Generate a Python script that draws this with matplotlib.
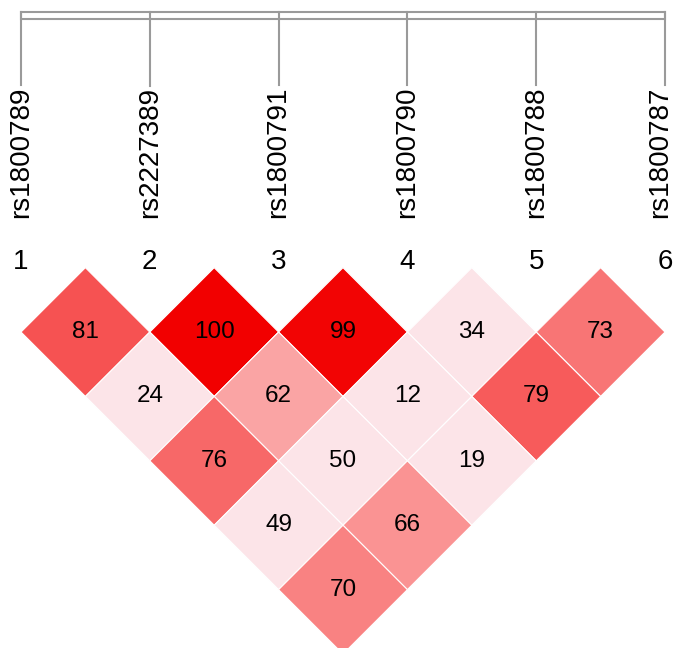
import matplotlib
matplotlib.use("Agg")
import matplotlib.pyplot as plt
from matplotlib.patches import Polygon, Rectangle

# =========================
# data
# =========================
snp_names = ["rs1800789", "rs2227389", "rs1800791", "rs1800790", "rs1800788", "rs1800787"]
snp_numbers = ["1", "2", "3", "4", "5", "6"]

# D' (x100) by marker distance: neighbours, 2 apart, 3 apart, ...
dprime_dist1 = [81, 100, 99, 34, 73]
dprime_dist2 = [24, 62, 12, 79]
dprime_dist3 = [76, 50, 19]
dprime_dist4 = [49, 66]
dprime_dist5 = [70]

rows = [dprime_dist1, dprime_dist2, dprime_dist3, dprime_dist4, dprime_dist5]

plt.rcParams["font.family"] = ["Liberation Sans", "DejaVu Sans"]

LIGHT = (0.988, 0.894, 0.910)
GRAY = "#9a9a9a"
X_MIN, X_MAX = -0.163, 5.070


def cell_color(v):
    # weak links drawn light pink, strong ones shaded toward red
    if v < 60:
        return LIGHT
    frac = min(max((v - 41) / 59.0, 0.0), 1.0)
    return (1 - 0.05 * frac, 1 - frac, 1 - frac)


fig = plt.figure(figsize=(6.74, 6.48), dpi=100)
ax = fig.add_axes([0, 0, 1, 1])
ax.set_xlim(X_MIN, X_MAX)
ax.set_ylim(-2.453, 2.578)
ax.axis("off")

# ---- diamonds
for d, vals in enumerate(rows, start=1):
    for i, v in enumerate(vals):
        j = i + d
        cx = (i + j) / 2.0
        cy = -(d - 1) * 0.5
        verts = [(cx - 0.5, cy), (cx, cy + 0.5), (cx + 0.5, cy), (cx, cy - 0.5)]
        ax.add_patch(Polygon(verts, closed=True, facecolor=cell_color(v),
                             edgecolor="white", linewidth=0.8))
        ax.text(cx, cy, str(v), ha="center", va="center", fontsize=17.5, color="black")

# ---- marker numbers
for k, num in enumerate(snp_numbers):
    ax.text(k, 0.543, num, ha="center", va="center", fontsize=20)

# ---- SNP names (last one kept inside the right edge)
labels = []
last = len(snp_names) - 1
for k, name in enumerate(snp_names):
    if k == last:
        t = ax.text(X_MAX - 0.005, 0.885, name, ha="right", va="bottom",
                    rotation=90, fontsize=20)
    else:
        t = ax.text(k, 0.885, name, ha="center", va="bottom", rotation=90, fontsize=20)
    labels.append(t)

# ---- top bar
bar_top, bar_bot = 2.484, 2.430
ax.add_patch(Rectangle((0, bar_bot), last, bar_top - bar_bot,
                       facecolor="white", edgecolor=GRAY, linewidth=1.5))

fig.canvas.draw()
renderer = fig.canvas.get_renderer()
inv = ax.transData.inverted()
for k, t in enumerate(labels):
    bb = t.get_window_extent(renderer=renderer)
    y_top = inv.transform((0, bb.y1))[1]
    ax.plot([k, k], [bar_top, y_top + 0.01], color=GRAY, linewidth=1.5)

fig.savefig("out.png", dpi=100, facecolor="white")
